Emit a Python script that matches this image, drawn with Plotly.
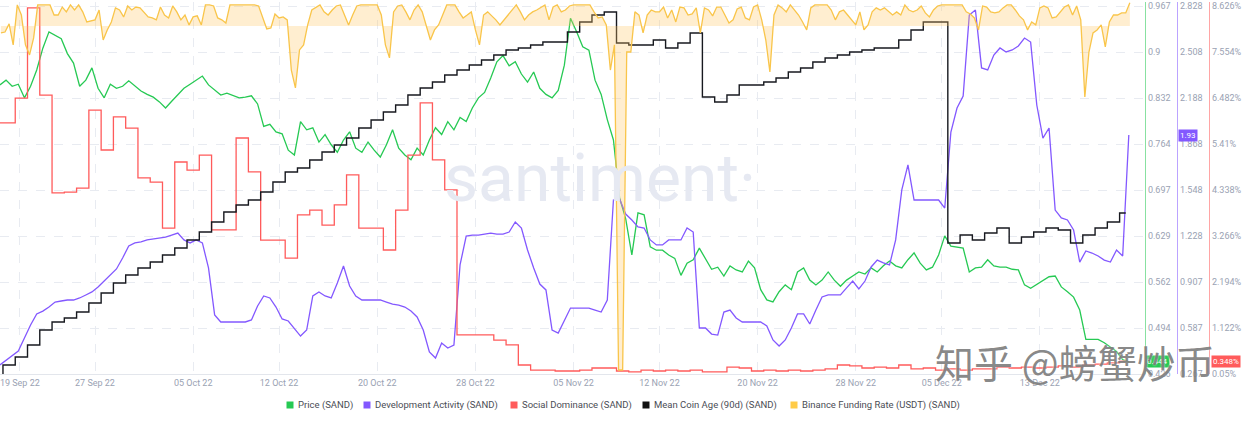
import numpy as np
import pandas as pd
import plotly.graph_objects as go

# ---------------- data ----------------
# Price (SAND), USD, 12-hour samples starting 2022-09-19 06:00
price = [
    0.851, 0.858, 0.849, 0.852, 0.832, 0.849, 0.873, 0.905, 0.929, 0.924,
    0.919, 0.897, 0.883, 0.849, 0.858, 0.876, 0.846, 0.832, 0.852, 0.846,
    0.849, 0.857, 0.849, 0.842, 0.837, 0.833, 0.826, 0.817, 0.827, 0.837,
    0.846, 0.852, 0.858, 0.864, 0.851, 0.843, 0.836, 0.839, 0.835, 0.832,
    0.833, 0.835, 0.823, 0.790, 0.793, 0.782, 0.779, 0.755, 0.748, 0.797,
    0.785, 0.788, 0.767, 0.778, 0.763, 0.752, 0.770, 0.782, 0.758, 0.752,
    0.767, 0.755, 0.745, 0.763, 0.785, 0.758, 0.748, 0.741, 0.758, 0.748,
    0.770, 0.788, 0.778, 0.797, 0.785, 0.803, 0.797, 0.817, 0.832, 0.840,
    0.861, 0.885, 0.894, 0.879, 0.885, 0.867, 0.855, 0.870, 0.846, 0.837,
    0.832, 0.843, 0.880, 0.949, 0.929, 0.907, 0.902, 0.858, 0.837, 0.800,
    0.770, 0.685, 0.654, 0.601, 0.663, 0.660, 0.613, 0.608, 0.608, 0.601,
    0.596, 0.571, 0.589, 0.594, 0.611, 0.596, 0.580, 0.583, 0.570, 0.585,
    0.579, 0.576, 0.592, 0.582, 0.550, 0.535, 0.532, 0.547, 0.557, 0.550,
    0.576, 0.582, 0.564, 0.557, 0.564, 0.576, 0.564, 0.555, 0.564, 0.570,
    0.576, 0.573, 0.582, 0.576, 0.585, 0.592, 0.585, 0.582, 0.594, 0.604,
    0.589, 0.579, 0.583, 0.601, 0.629, 0.614, 0.613, 0.611, 0.576, 0.582,
    0.583, 0.594, 0.585, 0.583, 0.583, 0.580, 0.579, 0.557, 0.552, 0.558,
    0.563, 0.569, 0.570, 0.554, 0.547, 0.539, 0.520, 0.477, 0.477, 0.477,
    0.472, 0.466, 0.459, 0.447, 0.444,
]

# Development Activity (SAND), 12-hour samples starting 2022-09-19 06:00
dev_activity = [
    0.330, 0.364, 0.399, 0.427, 0.518, 0.608, 0.685, 0.705, 0.733, 0.768,
    0.775, 0.782, 0.782, 0.796, 0.817, 0.838, 0.872, 0.914, 0.956, 0.998,
    1.074, 1.158, 1.179, 1.186, 1.200, 1.207, 1.213, 1.220, 1.234, 1.248,
    1.200, 1.179, 1.200, 1.179, 1.005, 0.678, 0.629, 0.629, 0.629, 0.629,
    0.629, 0.643, 0.740, 0.810, 0.796, 0.733, 0.650, 0.636, 0.580, 0.531,
    0.573, 0.810, 0.838, 0.810, 0.796, 0.900, 1.019, 0.879, 0.810, 0.782,
    0.782, 0.782, 0.782, 0.768, 0.754, 0.747, 0.733, 0.705, 0.664, 0.573,
    0.420, 0.378, 0.483, 0.448, 0.469, 1.026, 1.227, 1.234, 1.234, 1.241,
    1.248, 1.241, 1.241, 1.255, 1.325, 1.283, 1.130, 1.005, 0.893, 0.852,
    0.573, 0.552, 0.643, 0.726, 0.726, 0.726, 0.726, 0.712, 0.698, 0.782,
    1.478, 1.485, 1.380, 1.339, 1.290, 1.283, 1.200, 1.165, 1.165, 1.200,
    1.200, 1.200, 1.283, 1.255, 0.587, 0.587, 0.545, 0.538, 0.698, 0.712,
    0.657, 0.629, 0.629, 0.629, 0.629, 0.601, 0.504, 0.462, 0.504, 0.587,
    0.685, 0.685, 0.615, 0.712, 0.803, 0.817, 0.817, 0.817, 0.866, 0.914,
    0.859, 0.914, 1.012, 1.060, 1.040, 1.026, 1.200, 1.548, 1.722, 1.478,
    1.478, 1.478, 1.478, 1.478, 1.422, 1.951, 2.118, 2.202, 2.765, 2.800,
    2.397, 2.383, 2.487, 2.536, 2.508, 2.522, 2.550, 2.605, 2.577, 2.139,
    1.909, 1.979, 1.408, 1.353, 1.339, 1.269, 1.046, 1.123, 1.109, 1.088,
    1.060, 1.046, 1.130, 1.088, 1.930,
]

# Social Dominance (SAND), %, daily starting 2022-09-19
social_dominance = [
    5.90, 5.90, 6.48, 8.58, 6.55, 4.27, 4.29, 4.38, 6.20, 5.27,
    6.04, 5.78, 4.62, 4.52, 3.45, 4.99, 4.80, 5.15, 3.41, 3.41,
    5.55, 4.76, 3.17, 3.17, 2.75, 3.76, 3.87, 3.52, 3.99, 4.69,
    3.45, 3.45, 2.94, 3.87, 5.15, 6.37, 5.04, 4.34, 0.96, 0.96,
    0.96, 0.84, 0.73, 0.26, 0.14, 0.14, 0.12, 0.12, 0.14, 0.19,
    0.19, 0.12, 0.10, 0.14, 0.12, 0.14, 0.12, 0.14, 0.10, 0.10,
    0.21, 0.19, 0.12, 0.14, 0.12, 0.14, 0.12, 0.14, 0.17, 0.26,
    0.24, 0.19, 0.21, 0.19, 0.26, 0.17, 0.19, 0.14, 0.17, 0.14,
    0.17, 0.17, 0.21, 0.19, 0.21, 0.19, 0.21, 0.24, 0.21, 0.26,
    0.28, 0.31, 0.348,
]

# Mean Coin Age (90d) (SAND), days, daily starting 2022-09-19
mean_coin_age = [
    11.9, 12.9, 13.7, 14.9, 16.4, 17.2, 17.6, 18.2, 19.1, 20.1,
    21.1, 21.9, 22.6, 23.2, 23.9, 24.6, 25.4, 26.2, 27.2, 28.2,
    28.9, 29.4, 30.2, 31.2, 32.2, 32.6, 33.4, 34.2, 34.9, 35.6,
    36.6, 37.4, 38.2, 38.9, 39.9, 40.6, 41.2, 41.9, 42.4, 42.9,
    43.4, 43.9, 44.4, 44.6, 44.9, 45.2, 45.2, 46.2, 47.2, 47.9,
    48.2, 45.1, 44.9, 44.9, 45.4, 44.6, 45.1, 46.1, 39.7, 39.2,
    39.9, 40.9, 40.9, 41.2, 41.6, 42.2, 42.6, 43.2, 43.6, 43.9,
    44.2, 44.4, 44.6, 44.6, 45.4, 46.4, 47.2, 47.2, 25.1, 25.9,
    25.4, 26.1, 26.6, 25.1, 25.7, 26.2, 26.6, 26.4, 25.1, 25.9,
    26.6, 27.2, 28.1,
]

# Binance Funding Rate (USDT) (SAND), %, 8-hour samples starting 2022-09-19 08:00
funding_rate = [
    -0.0033, -0.0029, 0.0010, -0.0090, 0.0100, 0.0052, -0.0090, -0.0138, -0.0057, 0.0100,
    0.0100, 0.0100, 0.0100, 0.0052, 0.0052, 0.0090, 0.0067, 0.0100, 0.0076, 0.0100,
    0.0067, 0.0019, 0.0024, 0.0029, 0.0076, -0.0067, -0.0019, 0.0019, 0.0086, 0.0076,
    0.0043, 0.0095, 0.0076, 0.0090, 0.0086, 0.0062, 0.0043, 0.0038, 0.0029, 0.0090,
    0.0052, 0.0038, 0.0095, 0.0067, 0.0029, 0.0052, 0.0005, 0.0043, 0.0048, 0.0005,
    0.0100, 0.0100, 0.0095, 0.0038, 0.0029, 0.0014, 0.0100, 0.0100, 0.0100, 0.0100,
    0.0100, 0.0100, 0.0100, 0.0095, 0.0038, -0.0014, -0.0010, 0.0057, 0.0038, 0.0043,
    0.0029, -0.0210, -0.0295, -0.0114, -0.0090, 0.0005, 0.0076, 0.0090, 0.0100, 0.0067,
    0.0052, 0.0076, 0.0095, 0.0100, 0.0052, 0.0005, 0.0052, 0.0095, 0.0100, 0.0100,
    0.0100, 0.0100, 0.0100, 0.0052, -0.0090, -0.0152, 0.0067, 0.0095, 0.0100, 0.0067,
    0.0029, 0.0076, 0.0100, 0.0067, 0.0005, -0.0067, -0.0019, 0.0005, 0.0052, 0.0100,
    0.0100, 0.0100, 0.0067, 0.0038, 0.0052, 0.0067, -0.0019, -0.0090, 0.0052, 0.0067,
    0.0048, 0.0029, 0.0005, 0.0029, 0.0048, 0.0076, 0.0100, 0.0067, 0.0029, 0.0052,
    0.0067, 0.0076, 0.0086, 0.0100, 0.0029, 0.0090, 0.0100, 0.0067, 0.0076, 0.0095,
    0.0100, 0.0100, 0.0100, 0.0100, 0.0100, 0.0067, 0.0038, 0.0043, 0.0005, -0.0210,
    -0.0090, -0.1638, -0.1638, -0.0124, -0.0124, 0.0067, 0.0052, -0.0033, 0.0052, 0.0076,
    0.0067, 0.0067, 0.0090, 0.0038, 0.0076, 0.0019, 0.0090, 0.0086, 0.0052, 0.0057,
    0.0086, -0.0033, 0.0086, 0.0076, 0.0048, 0.0090, 0.0090, 0.0052, 0.0014, 0.0029,
    0.0081, 0.0090, 0.0038, 0.0029, 0.0090, 0.0100, 0.0029, -0.0067, -0.0219, 0.0052,
    0.0100, 0.0086, 0.0067, 0.0100, 0.0076, 0.0052, 0.0019, -0.0019, 0.0086, 0.0100,
    0.0100, 0.0100, 0.0100, 0.0076, 0.0029, 0.0067, 0.0076, 0.0052, 0.0029, 0.0005,
    0.0067, -0.0019, 0.0005, 0.0067, 0.0086, 0.0076, 0.0086, 0.0067, 0.0052, 0.0067,
    0.0052, 0.0100, 0.0076, 0.0067, 0.0076, 0.0095, 0.0062, 0.0043, 0.0076, 0.0095,
    0.0100, 0.0100, 0.0100, 0.0100, 0.0100, 0.0100, 0.0067, 0.0057, 0.0038, -0.0019,
    0.0095, 0.0090, 0.0067, 0.0062, 0.0067, 0.0086, 0.0100, 0.0100, 0.0076, 0.0048,
    0.0029, -0.0019, 0.0019, 0.0005, 0.0086, 0.0095, 0.0086, 0.0038, 0.0043, 0.0067,
    0.0090, 0.0100, 0.0052, 0.0095, 0.0029, -0.0338, -0.0124, -0.0033, -0.0019, 0.0005,
    -0.0100, 0.0019, 0.0052, 0.0052, 0.0062, 0.0062, 0.0110,
]

# axis tick labels
price_ticks = ["0.426", "0.494", "0.562", "0.629", "0.697", "0.764", "0.832", "0.9", "0.967"]
dev_ticks = ["0.267", "0.587", "0.907", "1.228", "1.548", "1.868", "2.188", "2.508", "2.828"]
social_ticks = ["0.05%", "1.122%", "2.194%", "3.266%", "4.338%", "5.41%", "6.482%", "7.554%", "8.626%"]
x_tick_dates = ["2022-09-20 21:00", "2022-09-27", "2022-10-05", "2022-10-12", "2022-10-20",
                "2022-10-28", "2022-11-05", "2022-11-12", "2022-11-20", "2022-11-28",
                "2022-12-05", "2022-12-13"]
x_tick_labels = ["19 Sep 22", "27 Sep 22", "05 Oct 22", "12 Oct 22", "20 Oct 22",
                 "28 Oct 22", "05 Nov 22", "12 Nov 22", "20 Nov 22", "28 Nov 22",
                 "05 Dec 22", "13 Dec 22"]

series_names = ["Price (SAND)", "Development Activity (SAND)", "Social Dominance (SAND)",
                "Mean Coin Age (90d) (SAND)", "Binance Funding Rate (USDT) (SAND)"]

# ---------------- styling ----------------
W, H = 1242, 421
TOP, BOTTOM = 2, 374            # plot area top / bottom in pixels
C_GREEN = "#26c953"
C_PURPLE = "#8358ff"
C_RED = "#ff5b5b"
C_BLACK = "#17191f"
C_YELLOW = "#f9c54a"
TICK_COLOR = "#9aa2b3"
GRID = "#e8ebf1"
FONT = "Roboto"

t12 = pd.date_range("2022-09-19 06:00", periods=len(price), freq="12h")
tday = pd.date_range("2022-09-19", periods=len(social_dominance), freq="D")
t8 = pd.date_range("2022-09-19 08:00", periods=len(funding_rate), freq="8h")

fig = go.Figure()

fig.add_trace(go.Scatter(x=t8, y=funding_rate, yaxis="y5", mode="lines",
                         line=dict(color=C_YELLOW, width=1.3), fill="tozeroy",
                         fillcolor="rgba(255,200,100,0.30)", name=series_names[4]))
fig.add_trace(go.Scatter(x=tday, y=social_dominance, yaxis="y3", mode="lines",
                         line=dict(color=C_RED, width=1.3, shape="hvh"), name=series_names[2]))
fig.add_trace(go.Scatter(x=t12, y=dev_activity, yaxis="y2", mode="lines",
                         line=dict(color=C_PURPLE, width=1.3), name=series_names[1]))
fig.add_trace(go.Scatter(x=t12, y=price, yaxis="y", mode="lines",
                         line=dict(color=C_GREEN, width=1.3), name=series_names[0]))
fig.add_trace(go.Scatter(x=tday, y=mean_coin_age, yaxis="y4", mode="lines",
                         line=dict(color=C_BLACK, width=1.4, shape="hvh"), name=series_names[3]))


def axis_range(labels):
    vals = [float(s.rstrip("%")) for s in labels]
    lo, hi = vals[0], vals[-1]
    per_px = (hi - lo) / (BOTTOM - TOP - 4)   # top label sits 4px below the plot top
    return [lo, hi + 4 * per_px], np.linspace(lo, hi, len(labels))


price_range, price_tv = axis_range(price_ticks)
dev_range, dev_tv = axis_range(dev_ticks)
soc_range, soc_tv = axis_range(social_ticks)

x_right = 1145 / W
tickfont = dict(family=FONT, size=9, color=TICK_COLOR)
PH = BOTTOM - TOP


def py(pixel_y):
    return (BOTTOM - pixel_y) / PH


fig.update_layout(
    width=W, height=H,
    template="none",
    paper_bgcolor="white", plot_bgcolor="white",
    margin=dict(l=0, r=0, t=TOP, b=H - BOTTOM),
    showlegend=False,
    xaxis=dict(type="date", domain=[0, x_right],
               range=["2022-09-19 06:12", "2022-12-21 13:40"],
               tickvals=x_tick_dates, ticktext=x_tick_labels, tickfont=tickfont,
               ticklabeloverflow="allow",
               showgrid=True, gridcolor=GRID, griddash="dash", gridwidth=1,
               showline=True, linecolor="#e3e6ec", linewidth=1,
               ticks="", zeroline=False, automargin=False),
    yaxis=dict(side="right", anchor="x", range=price_range,
               tickvals=price_tv, ticktext=price_ticks, tickfont=tickfont,
               showgrid=True, gridcolor=GRID, griddash="dash",
               showline=True, linecolor="rgba(38,201,83,0.55)", linewidth=1.2,
               ticks="", zeroline=False, automargin=False),
    yaxis2=dict(side="right", anchor="free", position=1177 / W, overlaying="y",
                range=dev_range, tickvals=dev_tv, ticktext=dev_ticks, tickfont=tickfont,
                showgrid=False, showline=True, linecolor="rgba(131,88,255,0.55)", linewidth=1.2,
                ticks="", zeroline=False, automargin=False),
    yaxis3=dict(side="right", anchor="free", position=1209 / W, overlaying="y",
                range=soc_range, tickvals=soc_tv, ticktext=social_ticks, tickfont=tickfont,
                showgrid=False, showline=True, linecolor="rgba(255,91,91,0.55)", linewidth=1.2,
                ticks="", zeroline=False, automargin=False),
    yaxis4=dict(overlaying="y", visible=False, range=[12.0, 49.2]),
    yaxis5=dict(overlaying="y", visible=False, range=[-0.1657, 0.0114]),
)

# watermark
fig.add_annotation(text="santiment·", xref="paper", yref="paper", x=600 / W, y=py(178),
                   xanchor="center", yanchor="middle", showarrow=False,
                   font=dict(family=FONT, size=66, color="#e6e9f2"))

# last-value labels
box_font = dict(family=FONT, size=8, color="white")
fig.add_annotation(text=f"{price[-1]:.3f}", xref="paper", yref="y", x=1157 / W, y=price[-1],
                   xanchor="center", yanchor="middle", showarrow=False,
                   bgcolor=C_GREEN, borderpad=1, font=box_font)
fig.add_annotation(text=f"{dev_activity[-1]:.2f}", xref="paper", yref="y2", x=1188 / W,
                   y=dev_activity[-1], xanchor="center", yanchor="middle", showarrow=False,
                   bgcolor=C_PURPLE, borderpad=1, font=box_font)
fig.add_annotation(text=f"{social_dominance[-1]:.3f}%", xref="paper", yref="y3", x=1226 / W,
                   y=social_dominance[-1], xanchor="center", yanchor="middle", showarrow=False,
                   bgcolor=C_RED, borderpad=1, font=box_font)

# legend (squares + labels)
legend_colors = [C_GREEN, C_PURPLE, C_RED, "#111111", "#ffcb47"]
legend_sq_x = [290, 367, 514, 646, 794]
ly = 405
for name, col, cx in zip(series_names, legend_colors, legend_sq_x):
    fig.add_shape(type="rect", xref="paper", yref="paper",
                  x0=(cx - 3.5) / W, x1=(cx + 3.5) / W,
                  y0=py(ly + 3.5), y1=py(ly - 3.5),
                  fillcolor=col, line=dict(width=0))
    fig.add_annotation(text=name, xref="paper", yref="paper", x=(cx + 6) / W, y=py(ly),
                       xanchor="left", yanchor="middle", showarrow=False,
                       font=dict(family=FONT, size=9.5, color="#4a4d55"))

# overlaid site watermark
fig.add_annotation(text="知乎 @螃蟹炒币", xref="paper", yref="paper", x=1075 / W, y=py(361),
                   xanchor="center", yanchor="middle", showarrow=False,
                   font=dict(family="Noto Sans CJK SC", size=39, color="rgba(105,105,105,0.8)",
                             shadow="0px 0px 2px #ffffff"))

fig.write_html("out.html")
